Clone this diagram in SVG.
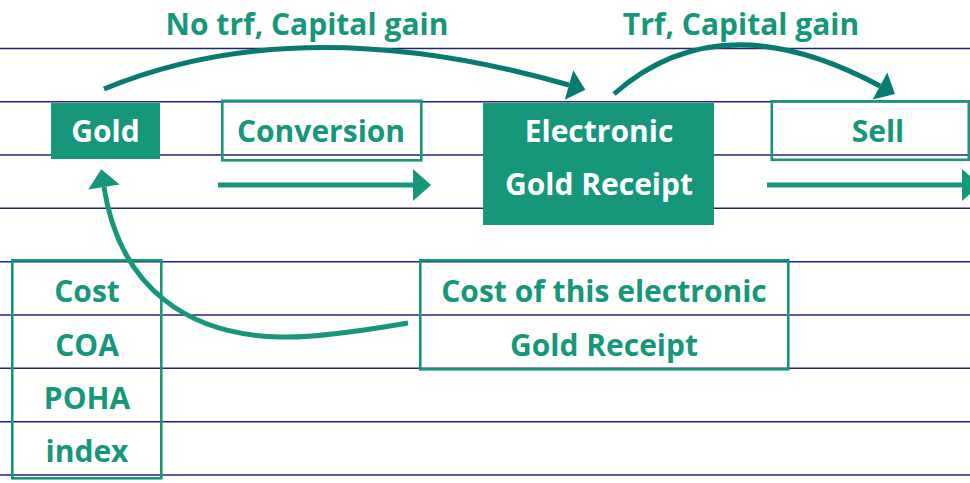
<svg xmlns="http://www.w3.org/2000/svg" width="970" height="483" viewBox="0 0 970 483">
  <style>
    .rule { stroke: #23256f; stroke-width: 1.4; }
    .t { font-family: "Open Sans", "Noto Sans", "Liberation Sans", sans-serif; font-weight: 700; font-size: 30px; text-anchor: middle; fill: #16967a; }
    .w { fill: #ffffff; }
    .solid { fill: #16967a; }
    .frame { fill: none; stroke: #16967a; stroke-width: 2.6; }
    .flow { fill: none; stroke: #16967a; stroke-width: 5; }
    .hop { fill: none; stroke: #077a72; stroke-width: 5; }
  </style>
  <defs>
    <marker id="headGreen" markerUnits="userSpaceOnUse" markerWidth="20" markerHeight="34" viewBox="0 -16 18 32" refX="0" refY="0" orient="auto">
      <path d="M0,-15 L17,0 L0,15 z" fill="#16967a"/>
    </marker>
    <marker id="headTeal" markerUnits="userSpaceOnUse" markerWidth="20" markerHeight="34" viewBox="0 -16 18 32" refX="0" refY="0" orient="auto">
      <path d="M0,-14.5 L16,0 L0,14.5 z" fill="#077a72"/>
    </marker>
  </defs>

  <rect width="970" height="483" fill="#ffffff"/>

  <!-- ruled background -->
  <g id="rules">
    <line class="rule" x1="0" y1="48.5" x2="970" y2="48.5"/>
    <line class="rule" x1="0" y1="101.8" x2="970" y2="101.8"/>
    <line class="rule" x1="0" y1="155" x2="970" y2="155"/>
    <line class="rule" x1="0" y1="208.3" x2="970" y2="208.3"/>
    <line class="rule" x1="0" y1="261.7" x2="970" y2="261.7"/>
    <line class="rule" x1="0" y1="315" x2="970" y2="315"/>
    <line class="rule" x1="0" y1="368.3" x2="970" y2="368.3"/>
    <line class="rule" x1="0" y1="421.7" x2="970" y2="421.7"/>
    <line class="rule" x1="0" y1="475" x2="970" y2="475"/>
  </g>

  <g id="gold">
    <rect class="solid" x="51" y="103" width="109" height="56"/>
    <text class="t w" x="105.5" y="142">Gold</text>
  </g>

  <g id="conversion">
    <rect class="frame" x="222.3" y="100.8" width="199" height="59.5"/>
    <text class="t" x="321" y="142">Conversion</text>
  </g>

  <g id="egr">
    <rect class="solid" x="483" y="103" width="231" height="122"/>
    <text class="t w" x="599" y="142">Electronic</text>
    <text class="t w" x="599" y="194.5">Gold Receipt</text>
  </g>

  <g id="sell">
    <rect class="frame" x="771.8" y="101.3" width="197" height="58.5"/>
    <text class="t" x="878" y="142">Sell</text>
  </g>

  <g id="cost-list">
    <rect class="frame" x="12.3" y="260.3" width="149" height="218"/>
    <text class="t" x="87" y="302">Cost</text>
    <text class="t" x="87" y="355.5">COA</text>
    <text class="t" x="87" y="408.8">POHA</text>
    <text class="t" x="87" y="462">index</text>
  </g>

  <g id="egr-cost">
    <rect class="frame" x="420.3" y="260.3" width="368" height="109"/>
    <text class="t" x="604" y="302">Cost of this electronic</text>
    <text class="t" x="604" y="355.5">Gold Receipt</text>
  </g>

  <g id="labels">
    <text class="t" x="307" y="35">No trf, Capital gain</text>
    <text class="t" x="741" y="35">Trf, Capital gain</text>
  </g>

  <g id="connectors">
    <line class="flow" x1="218" y1="185" x2="413" y2="185" marker-end="url(#headGreen)"/>
    <line class="flow" x1="767" y1="185" x2="962" y2="185" marker-end="url(#headGreen)"/>
    <path class="hop" d="M104,89 Q300,8 569,85" marker-end="url(#headTeal)"/>
    <path class="hop" d="M614,94 Q720,0 880,86" marker-end="url(#headTeal)"/>
    <path class="flow" d="M408,323 C350,333 310,338 280,337 C190,335 120,290 104,187" marker-end="url(#headGreen)"/>
  </g>
</svg>
